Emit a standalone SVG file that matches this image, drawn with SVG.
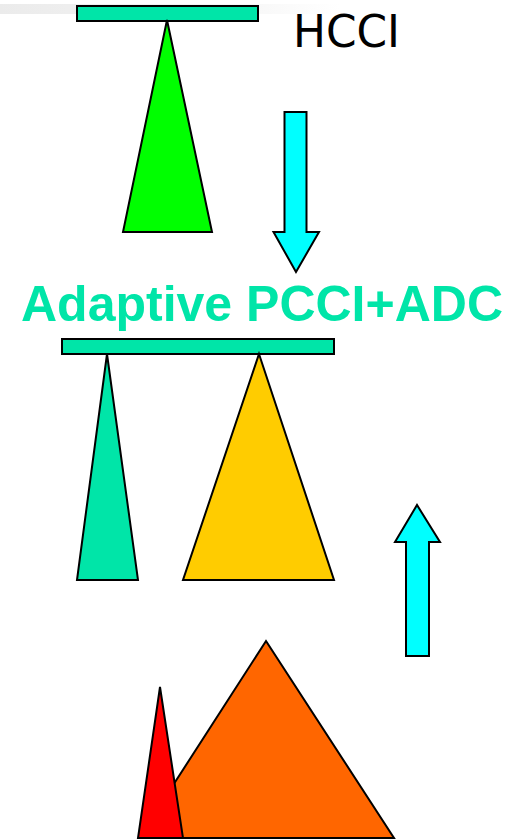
<svg xmlns="http://www.w3.org/2000/svg" width="513" height="840" viewBox="0 0 513 840">
  <defs>
    <linearGradient id="band" x1="0" y1="0" x2="1" y2="0">
      <stop offset="0" stop-color="#ebebeb"/>
      <stop offset="0.6" stop-color="#f4f4f4"/>
      <stop offset="1" stop-color="#ffffff"/>
    </linearGradient>
  </defs>
  <style>
    .s { stroke: #000; stroke-width: 2; stroke-linejoin: miter; }
    .bar { fill: #00E5A8; }
    .arrow { fill: #00FFFF; }
  </style>
  <rect x="0" y="0" width="513" height="840" fill="#fff"/>
  <rect x="0" y="4" width="340" height="10" fill="url(#band)"/>

  <g id="hcci-bar"><rect class="s bar" x="77" y="6" width="181" height="15"/></g>
  <g id="hcci-triangle"><polygon class="s" fill="#00FF00" points="167,20 212,232 123,232"/></g>
  <g id="hcci-label"><text x="293" y="47" font-family="Tahoma, 'DejaVu Sans', sans-serif" font-size="44" fill="#000" textLength="107" lengthAdjust="spacingAndGlyphs">HCCI</text></g>

  <g id="title"><text x="21" y="321" font-family="'Liberation Sans', Arial, sans-serif" font-weight="bold" font-size="50" fill="#00E5A8" textLength="482" lengthAdjust="spacingAndGlyphs">Adaptive PCCI+ADC</text></g>

  <g id="pcci-bar"><rect class="s bar" x="62" y="339" width="272" height="15"/></g>
  <g id="pcci-teal"><polygon class="s" fill="#00E5A8" points="107,354 138,580 77,580"/></g>
  <g id="pcci-yellow"><polygon class="s" fill="#FFCC00" points="259,354 334,580 183,580"/></g>

  <g id="orange-triangle"><polygon class="s" fill="#FF6600" points="266,641 394,838 139,838"/></g>
  <g id="red-triangle"><polygon class="s" fill="#FF0000" points="160,687 183,838 138,838"/></g>

  <g id="connectors">
    <polygon class="s arrow" points="284.5,112 306.5,112 306.5,232 319,232 296,272 273.5,232 284.5,232"/>
    <polygon class="s arrow" points="406,656 429,656 429,542 440,542 417,505 395,542 406,542"/>
  </g>
</svg>
